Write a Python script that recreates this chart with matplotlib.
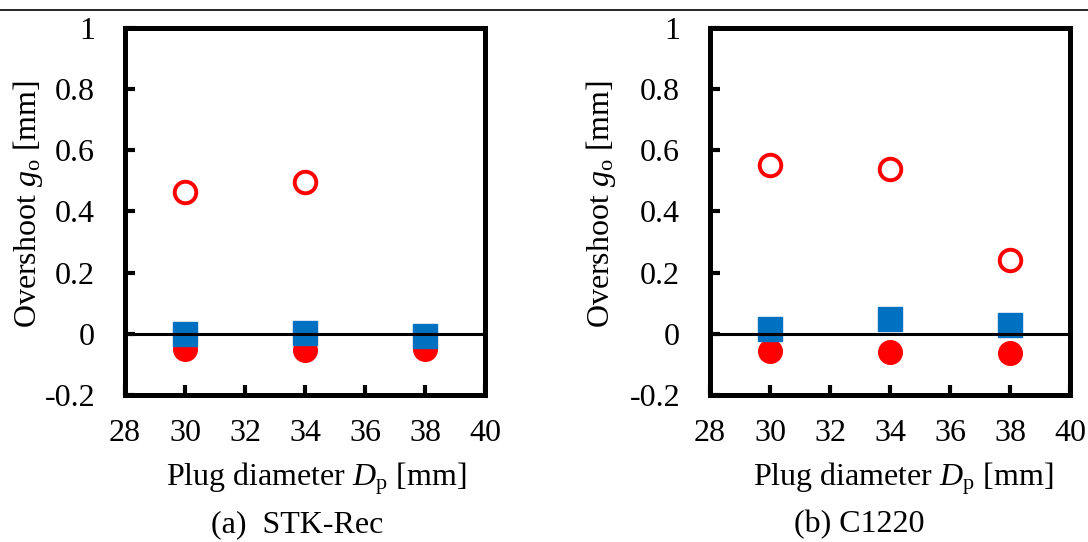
import matplotlib
matplotlib.use("Agg")
import matplotlib.pyplot as plt
from matplotlib.lines import Line2D

plt.rcParams["font.family"] = ["Liberation Serif", "DejaVu Serif"]
plt.rcParams["mathtext.fontset"] = "custom"
plt.rcParams["mathtext.rm"] = "Liberation Serif"
plt.rcParams["mathtext.it"] = "Liberation Serif:italic"
plt.rcParams["axes.unicode_minus"] = False

# Plug diameters [mm]
diam = [30, 34, 38]

# (a) STK-Rec
stk_open = [0.465, 0.495]          # open circles (only two diameters)
stk_open_d = [30, 34]
stk_square = [0.0, 0.002, -0.007]
stk_filled = [-0.051, -0.053, -0.048]

# (b) C1220
cu_open = [0.553, 0.539, 0.240]
cu_square = [0.016, 0.047, 0.030]
cu_filled = [-0.056, -0.060, -0.062]

xticks = [28, 30, 32, 34, 36, 38, 40]
yticks = [-0.2, 0, 0.2, 0.4, 0.6, 0.8, 1]
ytick_labels = ["-0.2", "0", "0.2", "0.4", "0.6", "0.8", "1"]

RED = "#FF0000"
BLUE = "#0070C0"
FS = 23
W, H = 1088, 542

fig = plt.figure(figsize=(W / 100, H / 100), dpi=100)

# thin rule across the top of the figure
fig.add_artist(Line2D([0, 1], [1 - 10 / H, 1 - 10 / H], transform=fig.transFigure,
                      color="black", lw=1.2))


def panel(left_px, open_x, open_y, sq_y, fill_y, caption, cap_x,
          ylab_x, xlab_x):
    x0, x1, ytop, ybot = left_px, left_px + 360, 28, 395
    ax = fig.add_axes([x0 / W, 1 - ybot / H, (x1 - x0) / W, (ybot - ytop) / H])
    ax.plot(diam, fill_y, "o", ms=17, color=RED, mec=RED, zorder=3)
    ax.plot(diam, sq_y, "s", ms=17, color=BLUE, mec=BLUE, zorder=4)
    ax.plot(open_x, open_y, "o", ms=15.5, mfc="white", mec=RED, mew=2.8, zorder=3)
    ax.axhline(0, color="black", lw=2.2, zorder=5)
    ax.set_xlim(28, 40)
    ax.set_ylim(-0.2, 1)
    ax.set_xticks(xticks)
    ax.set_yticks(yticks)
    ax.set_yticklabels(ytick_labels)
    ax.tick_params(direction="in", length=7, width=3, labelsize=FS)
    ax.tick_params(axis="x", pad=17)
    ax.tick_params(axis="y", pad=21.5)
    for s in ax.spines.values():
        s.set_linewidth(3.6)
    ax.set_ylabel(r"Overshoot $g_\mathrm{o}$ [mm]", fontsize=FS, va="center")
    ax.yaxis.set_label_coords((ylab_x - x0) / (x1 - x0), (ybot - 204) / (ybot - ytop))
    ax.set_xlabel(r"Plug diameter $D_\mathrm{p}$ [mm]", fontsize=FS, va="center")
    ax.xaxis.set_label_coords((xlab_x - x0) / (x1 - x0), (ybot - 479) / (ybot - ytop))
    fig.text(cap_x / W, 1 - 525 / H, caption, fontsize=FS, ha="center", va="center")
    return ax


panel(125, stk_open_d, stk_open, stk_square, stk_filled,
      "(a)  STK-Rec", 297, 28, 316)
panel(710, diam, cu_open, cu_square, cu_filled,
      "(b) C1220", 859, 601, 903)

fig.savefig("out.png", dpi=100)
